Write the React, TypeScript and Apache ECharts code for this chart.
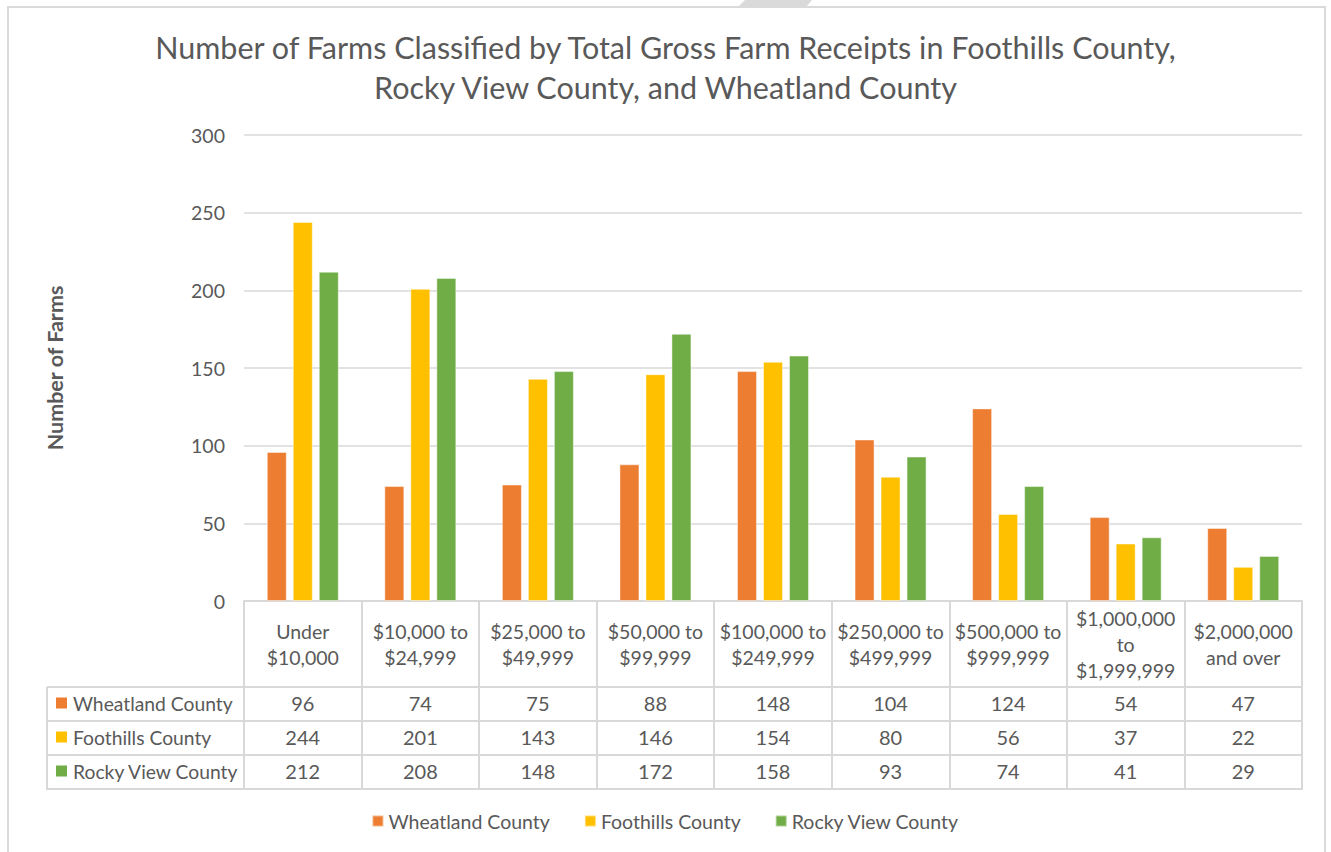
import React, { useEffect, useRef } from "react";
import * as echarts from "echarts";

const categories = [
  "Under\n$10,000",
  "$10,000 to\n$24,999",
  "$25,000 to\n$49,999",
  "$50,000 to\n$99,999",
  "$100,000 to\n$249,999",
  "$250,000 to\n$499,999",
  "$500,000 to\n$999,999",
  "$1,000,000\nto\n$1,999,999",
  "$2,000,000\nand over",
];
const seriesNames = ["Wheatland County", "Foothills County", "Rocky View County"];
const wheatland = [96, 74, 75, 88, 148, 104, 124, 54, 47];
const foothills = [244, 201, 143, 146, 154, 80, 56, 37, 22];
const rockyView = [212, 208, 148, 172, 158, 93, 74, 41, 29];
const colors = ["#ED7D31", "#FFC000", "#70AD47"];
const yTicks = { min: 0, max: 300, interval: 50 };
const titleText =
  "Number of Farms Classified by Total Gross Farm Receipts in Foothills County,\nRocky View County, and Wheatland County";

const FONT = "Lato";
const TXT = "#595959";
const LINE = "#D9D9D9";

export default function App() {
  const ref = useRef<HTMLDivElement>(null);
  useEffect(() => {
    if (!ref.current) return;
    const chart = echarts.init(ref.current, undefined, { renderer: "svg" });
    const data = [wheatland, foothills, rockyView];
    const gridLeft = 244;
    const gridRight = 1302;
    const gridTop = 135;
    const gridBottom = 601;
    chart.setOption({
      animation: false,
      backgroundColor: "#ffffff",
      textStyle: { fontFamily: FONT },
      title: {
        text: titleText,
        left: "center",
        top: 22,
        textStyle: {
          fontFamily: FONT,
          fontSize: 30.5,
          fontWeight: "normal",
          color: TXT,
          lineHeight: 40,
        },
      },
      legend: {
        data: seriesNames,
        top: 806,
        left: "center",
        icon: "rect",
        itemWidth: 11,
        itemHeight: 11,
        itemGap: 34,
        textStyle: { fontFamily: FONT, fontSize: 19.5, color: TXT },
      },
      grid: {
        left: gridLeft,
        right: 1331 - gridRight,
        top: gridTop,
        bottom: 852 - gridBottom,
        containLabel: false,
      },
      xAxis: {
        type: "category",
        data: categories,
        axisLine: { show: true, lineStyle: { color: LINE, width: 2 } },
        axisTick: { show: true, length: 188, lineStyle: { color: LINE, width: 2 } },
        axisLabel: {
          interval: 0,
          margin: 43,
          verticalAlign: "middle",
          lineHeight: 26,
          fontFamily: FONT,
          fontSize: 19.5,
          color: TXT,
        },
      },
      yAxis: {
        type: "value",
        min: yTicks.min,
        max: yTicks.max,
        interval: yTicks.interval,
        name: "Number of Farms",
        nameLocation: "middle",
        nameRotate: 90,
        nameGap: 178,
        nameTextStyle: { fontFamily: FONT, fontSize: 21.5, fontWeight: "bold", color: TXT },
        axisLine: { show: false },
        axisTick: { show: false },
        axisLabel: { margin: 19, fontFamily: FONT, fontSize: 19.5, color: TXT },
        splitLine: { lineStyle: { color: LINE, width: 1.5 } },
      },
      series: seriesNames.map((name, i) => ({
        name,
        type: "bar",
        data: data[i],
        barWidth: 20,
        barGap: "30%",
        itemStyle: {
          color: colors[i],
          borderColor: "rgba(255,255,255,0.45)",
          borderWidth: 1,
        },
      })),
    });

    // Data table below the axis
    const rowTops = [687, 721, 755, 789];
    const tableLeft = 47;
    const graphics: any[] = [];
    graphics.push({
      type: "rect",
      shape: { x: 8, y: 7, width: 1317, height: 900 },
      style: { fill: "none", stroke: "#DADADA", lineWidth: 2 },
      silent: true,
    });
    graphics.push({
      type: "polygon",
      shape: { points: [[745, 0], [812, 0], [806, 7], [738, 7]] },
      style: { fill: "#DADADA" },
      silent: true,
    });
    rowTops.forEach((y) => {
      graphics.push({
        type: "line",
        shape: { x1: tableLeft, y1: y, x2: gridRight + 1, y2: y },
        style: { stroke: LINE, lineWidth: 2 },
      });
    });
    graphics.push({
      type: "line",
      shape: { x1: tableLeft, y1: rowTops[0], x2: tableLeft, y2: rowTops[3] + 1 },
      style: { stroke: LINE, lineWidth: 2 },
    });
    for (let r = 0; r < 3; r++) {
      const cy = (rowTops[r] + rowTops[r + 1]) / 2 - 1;
      graphics.push({
        type: "rect",
        shape: { x: 56, y: cy - 5.5, width: 11, height: 11 },
        style: { fill: colors[r] },
      });
      graphics.push({
        type: "text",
        x: 73,
        y: cy,
        style: {
          text: seriesNames[r],
          fontFamily: FONT,
          fontSize: 19.3,
          fill: TXT,
          align: "left",
          verticalAlign: "middle",
        },
      });
      data[r].forEach((v, c) => {
        const cx = chart.convertToPixel({ xAxisIndex: 0 }, c) as number;
        graphics.push({
          type: "text",
          x: cx,
          y: cy,
          style: {
            text: String(v),
            fontFamily: FONT,
            fontSize: 20,
            fill: TXT,
            align: "center",
            verticalAlign: "middle",
          },
        });
      });
    }
    chart.setOption({ graphic: graphics });
    return () => chart.dispose();
  }, []);
  return (
    <div
      ref={ref}
      style={{ position: "fixed", left: 0, top: 0, width: 1331, height: 852, background: "#fff" }}
    />
  );
}
